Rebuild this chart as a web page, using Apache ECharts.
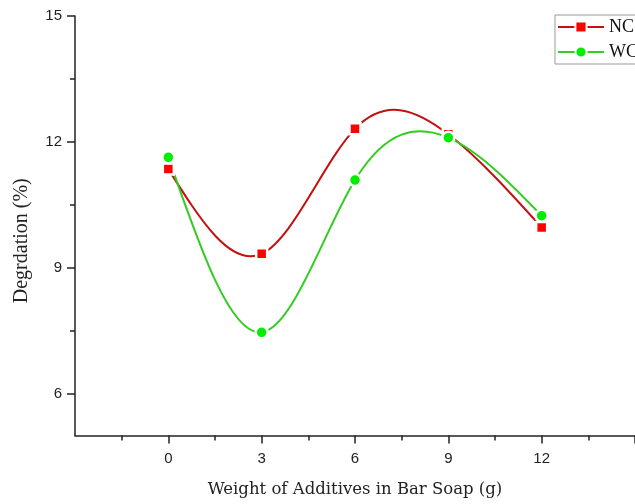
<!DOCTYPE html>
<html>
<head>
<meta charset="utf-8">
<script src="https://cdn.jsdelivr.net/npm/echarts@6/dist/echarts.min.js"></script>
<style>html,body{margin:0;padding:0;background:#fff;}#c{width:635px;height:504px;}</style>
</head>
<body>
<div id="c"></div>
<script>
const xValues = [0, 3, 6, 9, 12];
const ncValues = [11.35, 9.33, 12.31, 12.18, 9.96];
const wcValues = [11.63, 7.46, 11.09, 12.10, 10.24];
const xMajorTicks = [0, 3, 6, 9, 12, 15];
const xMinorTicks = [-1.5, 1.5, 4.5, 7.5, 10.5, 13.5];
const yMajorTicks = [6, 9, 12, 15];
const yMinorTicks = [7.5, 10.5, 13.5];
const xLabels = [0, 3, 6, 9, 12];

// Natural cubic spline slopes at the data points (used only to shape the drawn curve)
function splineSlopes(xs, ys) {
  const n = xs.length;
  const h = [];
  for (let i = 0; i < n - 1; i++) h.push(xs[i + 1] - xs[i]);
  const a = new Array(n).fill(0), b = new Array(n).fill(1), c = new Array(n).fill(0), d = new Array(n).fill(0);
  for (let i = 1; i < n - 1; i++) {
    a[i] = h[i - 1] / 6;
    b[i] = (h[i - 1] + h[i]) / 3;
    c[i] = h[i] / 6;
    d[i] = (ys[i + 1] - ys[i]) / h[i] - (ys[i] - ys[i - 1]) / h[i - 1];
  }
  const cp = new Array(n).fill(0), dp = new Array(n).fill(0);
  cp[0] = c[0] / b[0]; dp[0] = d[0] / b[0];
  for (let i = 1; i < n; i++) {
    const m = b[i] - a[i] * cp[i - 1];
    cp[i] = c[i] / m;
    dp[i] = (d[i] - a[i] * dp[i - 1]) / m;
  }
  const M = new Array(n).fill(0);
  M[n - 1] = dp[n - 1];
  for (let i = n - 2; i >= 0; i--) M[i] = dp[i] - cp[i] * M[i + 1];
  const s = [];
  for (let i = 0; i < n; i++) {
    if (i < n - 1) s.push((ys[i + 1] - ys[i]) / h[i] - h[i] * (2 * M[i] + M[i + 1]) / 6);
    else s.push((ys[i] - ys[i - 1]) / h[i - 1] + h[i - 1] * (M[i - 1] + 2 * M[i]) / 6);
  }
  return s;
}

function curveSeries(name, ys, color) {
  const slopes = splineSlopes(xValues, ys);
  return {
    name: name + ' curve', type: 'custom', xAxisIndex: 0, yAxisIndex: 0,
    data: xValues.map((x, i) => [x, ys[i]]),
    silent: true, z: 1,
    renderItem: function (params, api) {
      const i = params.dataIndex;
      if (i >= xValues.length - 1) return null;
      const x0 = xValues[i], x1 = xValues[i + 1], h = x1 - x0;
      const p0 = api.coord([x0, ys[i]]);
      const p1 = api.coord([x1, ys[i + 1]]);
      const c0 = api.coord([x0 + h / 3, ys[i] + slopes[i] * h / 3]);
      const c1 = api.coord([x1 - h / 3, ys[i + 1] - slopes[i + 1] * h / 3]);
      return {
        type: 'bezierCurve',
        shape: {x1: p0[0], y1: p0[1], x2: p1[0], y2: p1[1], cpx1: c0[0], cpy1: c0[1], cpx2: c1[0], cpy2: c1[1]},
        style: {stroke: color, lineWidth: 2, fill: null}
      };
    }
  };
}

const chart = echarts.init(document.getElementById('c'), null, {renderer: 'canvas'});
const axisColor = '#222';
const labelFont = {fontFamily: 'Liberation Sans', fontSize: 15, color: '#222'};
const ncLine = '#C41010', ncMark = '#FF0000', wcLine = '#33CC22', wcMark = '#00EE00';

chart.setOption({
  animation: false,
  backgroundColor: '#fff',
  grid: {left: 75, top: 16, right: -5, bottom: 68.5, containLabel: false},
  legend: {
    left: 555, top: 15,
    orient: 'vertical',
    itemWidth: 46, itemHeight: 14, itemGap: 7,
    padding: [3, 6, 3, 2],
    borderColor: '#999', borderWidth: 1,
    textStyle: {fontFamily: 'Liberation Serif', fontSize: 18, color: '#111'},
    data: [
      {name: 'NC', lineStyle: {color: ncLine, width: 2, opacity: 1}},
      {name: 'WC', lineStyle: {color: wcLine, width: 2, opacity: 1}}
    ]
  },
  xAxis: [{
    type: 'value', min: -3, max: 15,
    name: 'Weight of Additives in Bar Soap (g)',
    nameLocation: 'middle', nameGap: 46,
    nameTextStyle: {fontFamily: 'DejaVu Serif', fontSize: 16.5, color: '#222'},
    axisLine: {show: true, onZero: false, lineStyle: {color: axisColor, width: 1.5}},
    axisTick: {show: true, customValues: xMajorTicks, length: 8, lineStyle: {color: axisColor, width: 1.5}},
    axisLabel: {customValues: xLabels, margin: 16, ...labelFont},
    splitLine: {show: false}
  }, {
    type: 'value', min: -3, max: 15, position: 'bottom',
    axisLine: {show: false, onZero: false},
    axisTick: {show: true, customValues: xMinorTicks, length: 5, lineStyle: {color: axisColor, width: 1.5}},
    axisLabel: {show: false},
    splitLine: {show: false}
  }],
  yAxis: [{
    type: 'value', min: 5, max: 15,
    name: 'Degrdation (%)',
    nameLocation: 'middle', nameGap: 43,
    nameTextStyle: {fontFamily: 'Liberation Serif', fontSize: 20, color: '#222', padding: [0, 0, 0, -30]},
    axisLine: {show: true, onZero: false, lineStyle: {color: axisColor, width: 1.5}},
    axisTick: {show: true, customValues: yMajorTicks, length: 8, lineStyle: {color: axisColor, width: 1.5}},
    axisLabel: {customValues: yMajorTicks, margin: 13, ...labelFont},
    splitLine: {show: false}
  }, {
    type: 'value', min: 5, max: 15, position: 'left', offset: 0,
    axisLine: {show: false, onZero: false},
    axisTick: {show: true, customValues: yMinorTicks, length: 5, lineStyle: {color: axisColor, width: 1.5}},
    axisLabel: {show: false},
    splitLine: {show: false}
  }],
  series: [
    curveSeries('NC', ncValues, ncLine),
    curveSeries('WC', wcValues, wcLine),
    {
      name: 'NC', type: 'line',
      data: xValues.map((x, i) => [x, ncValues[i]]),
      symbol: 'rect', symbolSize: 11,
      lineStyle: {color: ncLine, width: 0, opacity: 0},
      itemStyle: {color: ncMark, borderColor: '#fff', borderWidth: 2.5},
      z: 3
    }, {
      name: 'WC', type: 'line',
      data: xValues.map((x, i) => [x, wcValues[i]]),
      symbol: 'circle', symbolSize: 12,
      lineStyle: {color: wcLine, width: 0, opacity: 0},
      itemStyle: {color: wcMark, borderColor: '#fff', borderWidth: 2.5},
      z: 4
    }
  ]
});
</script>
</body>
</html>
